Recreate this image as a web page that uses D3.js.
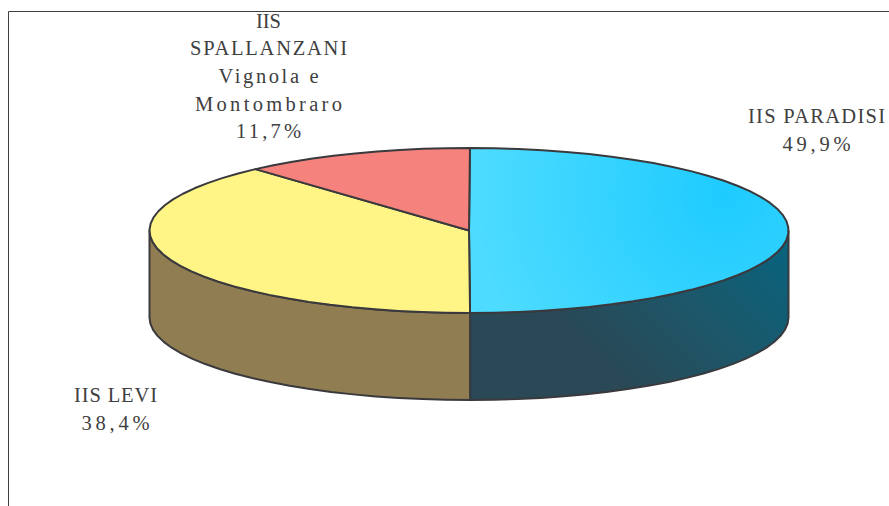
<!DOCTYPE html>
<html><head><meta charset="utf-8">
<script src="https://cdn.jsdelivr.net/npm/d3@7"></script>
<style>html,body{margin:0;padding:0;background:#fff}svg{display:block}</style></head>
<body><svg id="c" width="889" height="506"></svg>
<script>
const categories = ["IIS PARADISI", "IIS LEVI", "IIS SPALLANZANI Vignola e Montombraro"];
const shares = [49.9, 38.4, 11.7];
const labelLines = [["IIS PARADISI", "49,9%"], ["IIS LEVI", "38,4%"], ["IIS", "SPALLANZANI", "Vignola e", "Montombraro", "11,7%"]];
const topColors = ["url(#blueTop)", "#fff587", "#f6827e"];
const sideColors = ["url(#blueSide)", "#917d52", "#a5524f"];

const cx = 469, cy = 230.5, rx = 319.5, ry = 82.5, depth = 87;
const svg = d3.select("#c");
const stroke = "#3a3a3e";

const defs = svg.append("defs");
const g1 = defs.append("radialGradient").attr("id", "blueTop").attr("gradientUnits", "userSpaceOnUse")
  .attr("cx", 725).attr("cy", 195).attr("r", 250);
g1.append("stop").attr("offset", 0).attr("stop-color", "#1ecbff");
g1.append("stop").attr("offset", 1).attr("stop-color", "#4ddbff");
const g2 = defs.append("linearGradient").attr("id", "blueSide").attr("gradientUnits", "userSpaceOnUse")
  .attr("x1", 790).attr("y1", 235).attr("x2", 630).attr("y2", 395);
g2.append("stop").attr("offset", 0).attr("stop-color", "#07647f");
g2.append("stop").attr("offset", 0.55).attr("stop-color", "#1d5668");
g2.append("stop").attr("offset", 1).attr("stop-color", "#2a4855");

// frame
svg.append("path").attr("d", "M8.5,506V11.5H889").attr("fill", "none").attr("stroke", "#404040").attr("stroke-width", 1);

const rotation = 0.003;
const pie = d3.pie().sort(null).startAngle(rotation).endAngle(2 * Math.PI + rotation).value(d => d)(shares);
const px = a => cx + rx * Math.sin(a), py = a => cy - ry * Math.cos(a);
const line = d3.line();
const stepsPerRadian = 13;
const samples = (a0, a1) => {
  const n = Math.max(1, Math.ceil((a1 - a0) * stepsPerRadian));
  return d3.range(n + 1).map(i => a0 + (a1 - a0) * i / n);
};

// sides: the visible rim is the front half, angles in [PI/2, 3PI/2]
pie.forEach((s, i) => {
  const a0 = Math.max(s.startAngle, Math.PI / 2), a1 = Math.min(s.endAngle, 3 * Math.PI / 2);
  if (a1 <= a0) return;
  const as = samples(a0, a1);
  const upper = as.map(a => [px(a), py(a)]);
  const lower = as.slice().reverse().map(a => [px(a), py(a) + depth]);
  svg.append("path").attr("d", line(upper.concat(lower)) + "Z")
    .attr("fill", sideColors[i]).attr("stroke", stroke).attr("stroke-width", 2).attr("stroke-linejoin", "round");
});

// top slices
pie.forEach((s, i) => {
  const pts = [[cx, cy]].concat(samples(s.startAngle, s.endAngle).map(a => [px(a), py(a)]));
  svg.append("path").attr("d", line(pts) + "Z")
    .attr("fill", topColors[i]).attr("stroke", stroke).attr("stroke-width", 2).attr("stroke-linejoin", "round");
});

// labels
const labelX = [816.5, 115.5, 268.5];
const labelBaseline = [123, 402, 27.5];
const lineWidths = [[137, 68], [83, 68], [25, 157, 100, 147, 65]];
const lh = 27.7;
labelLines.forEach((lines, i) => {
  const t = svg.append("text").attr("font-family", "'Liberation Serif', serif").attr("font-size", 20.5).attr("fill", "#404040");
  lines.forEach((l, j) => {
    t.append("tspan").attr("x", labelX[i] - lineWidths[i][j] / 2).attr("y", labelBaseline[i] + j * lh)
      .attr("textLength", lineWidths[i][j]).attr("lengthAdjust", "spacing").text(l);
  });
});
</script></body></html>
